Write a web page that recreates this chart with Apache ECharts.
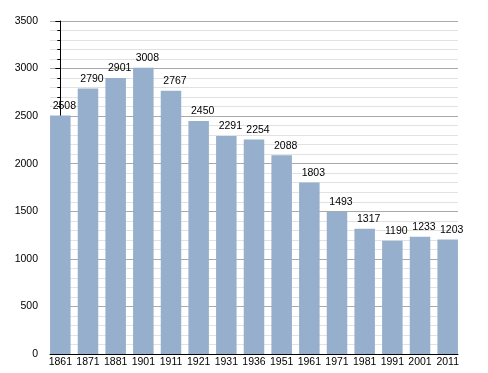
<!DOCTYPE html>
<html>
<head>
<meta charset="utf-8">
<script src="https://cdn.jsdelivr.net/npm/echarts@6/dist/echarts.min.js"></script>
<style>html,body{margin:0;padding:0;background:#fff}#c{width:488px;height:373px}</style>
</head>
<body>
<div id="c"></div>
<script>
const years = ["1861","1871","1881","1901","1911","1921","1931","1936","1951","1961","1971","1981","1991","2001","2011"];
const population = [2508,2790,2901,3008,2767,2450,2291,2254,2088,1803,1493,1317,1190,1233,1203];
const yTicks = [0,500,1000,1500,2000,2500,3000,3500];

const chart = echarts.init(document.getElementById('c'));
const font = '"Liberation Sans", Arial, sans-serif';
chart.setOption({
  animation: false,
  grid: {left: 50, right: 30, top: 21, bottom: 19},
  xAxis: {
    type: 'value',
    min: -0.373, max: years.length - 1 + 0.373,
    splitLine: {show: false},
    axisTick: {show: false},
    axisLine: {show: true, lineStyle: {color: '#000', width: 1}},
    axisLabel: {
      customValues: years.map((_, i) => i),
      formatter: v => years[Math.round(v)],
      color: '#000', fontFamily: font, fontSize: 10.5, margin: 3
    }
  },
  yAxis: {
    type: 'value', min: yTicks[0], max: yTicks[yTicks.length-1], interval: 500,
    axisLine: {show: true, lineStyle: {color: '#000', width: 1}},
    axisTick: {show: true, length: 5, lineStyle: {color: '#000'}},
    minorTick: {show: true, splitNumber: 5, length: 3, lineStyle: {color: '#000'}},
    splitLine: {show: true, lineStyle: {color: '#aaaaaa', width: 1}},
    minorSplitLine: {show: true, lineStyle: {color: '#e2e2e2', width: 1}},
    axisLabel: {color: '#000', fontFamily: font, fontSize: 10.5, margin: 12, formatter: v => String(v)}
  },
  series: [{
    type: 'bar',
    data: population.map((v, i) => [i, v]),
    barWidth: 20.5,
    itemStyle: {color: '#95afcc'},
    label: {show: true, position: 'top', distance: 4, offset: [4, 0], color: '#000', fontFamily: font, fontSize: 10.5}
  }]
});
</script>
</body>
</html>
